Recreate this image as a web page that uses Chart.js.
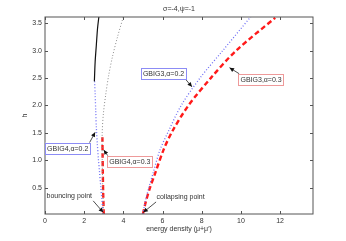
<!DOCTYPE html>
<html>
<head>
<meta charset="utf-8">
<script src="https://cdn.jsdelivr.net/npm/chart.js@4.4.1/dist/chart.umd.min.js"></script>
<style>
    html, body { margin: 0; padding: 0; background: #fff; }
    #wrap { width: 346px; height: 241px; }
</style>
</head>
<body>
<div id="wrap"><canvas id="chart" width="346" height="241"></canvas></div>
<script>
// Series: [energy density, h]
const blackSolid = [[2.52, 2.44], [2.56, 2.8], [2.62, 3.1], [2.68, 3.4], [2.75, 3.62]];
const grayDotted = [[3.0, 0.02], [2.95, 0.5], [2.92, 1.0], [2.92, 1.5], [2.98, 1.85], [3.1, 2.2],
    [3.25, 2.55], [3.45, 2.9], [3.7, 3.25], [4.0, 3.62]];
const gbig4a02 = [[2.97, 0.02], [2.9, 0.3], [2.85, 0.5], [2.78, 0.8], [2.73, 1.0], [2.67, 1.3],
    [2.62, 1.6], [2.59, 1.9], [2.56, 2.2], [2.53, 2.44]];
const gbig4a03 = [[3.0, 0.02], [2.97, 0.4], [2.95, 0.8], [2.94, 1.1], [2.93, 1.42]];
const gbig3a02 = [[5.0, 0.02], [5.12, 0.25], [5.3, 0.5], [5.52, 0.77], [5.87, 1.19], [6.3, 1.53],
    [6.95, 2.0], [7.91, 2.5], [9.07, 3.0], [10.5, 3.62]];
const gbig3a03 = [[5.0, 0.02], [5.15, 0.25], [5.36, 0.5], [5.63, 0.77], [6.05, 1.19], [6.5, 1.53],
    [7.32, 2.0], [8.46, 2.5], [9.75, 3.0], [11.75, 3.6]];

const xTicks = [0, 2, 4, 6, 8, 10, 12];
const yTicks = [0.5, 1, 1.5, 2, 2.5, 3, 3.5];

// Annotation boxes / text with arrows, in data coordinates
const notes = [
    { text: 'GBIG3,\u03b1=0.2', x: 6.05, y: 2.58, box: '#8c8cf5', from: [7.15, 2.49], to: [7.5, 2.34] },
    { text: 'GBIG3,\u03b1=0.3', x: 11.03, y: 2.475, box: '#ee9a9a', from: [9.91, 2.58], to: [9.42, 2.69] },
    { text: 'GBIG4,\u03b1=0.2', x: 1.16, y: 1.22, box: '#8c8cf5', from: [2.27, 1.32], to: [2.56, 1.51] },
    { text: 'GBIG4,\u03b1=0.3', x: 4.33, y: 0.985, box: '#ee9a9a', from: [3.21, 1.08], to: [3.0, 1.19] },
    { text: 'bouncing point', x: 1.24, y: 0.35, box: null, from: [2.46, 0.26], to: [2.97, 0.05] },
    { text: 'collapsing point', x: 6.92, y: 0.34, box: null, from: [5.67, 0.24], to: [5.02, 0.05] }
];

const toPts = arr => arr.map(p => ({ x: p[0], y: p[1] }));
const FAMILY = '"Liberation Sans", Arial, sans-serif';
const FONT = '7px ' + FAMILY;

function line(data, color, width, dash) {
    return {
        data: toPts(data),
        showLine: true,
        borderColor: color,
        borderWidth: width,
        borderDash: dash,
        pointRadius: 0,
        tension: 0.3,
        fill: false
    };
}

const framePlugin = {
    id: 'frame',
    afterDraw(chart) {
        const { ctx, chartArea: a, scales } = chart;
        ctx.save();
        ctx.strokeStyle = '#555';
        ctx.lineWidth = 1;
        ctx.strokeRect(a.left, a.top, a.right - a.left, a.bottom - a.top);
        ctx.beginPath();
        xTicks.forEach(v => {
            const px = Math.round(scales.x.getPixelForValue(v)) + 0.5;
            ctx.moveTo(px, a.bottom); ctx.lineTo(px, a.bottom - 3);
            ctx.moveTo(px, a.top); ctx.lineTo(px, a.top + 3);
        });
        yTicks.forEach(v => {
            const py = Math.round(scales.y.getPixelForValue(v)) + 0.5;
            ctx.moveTo(a.left, py); ctx.lineTo(a.left + 3, py);
            ctx.moveTo(a.right, py); ctx.lineTo(a.right - 3, py);
        });
        ctx.stroke();

        // title and axis titles
        ctx.fillStyle = '#333';
        ctx.font = FONT;
        ctx.textAlign = 'center';
        ctx.textBaseline = 'middle';
        ctx.fillText('\u03c3=-4,\u03c8=-1', (a.left + a.right) / 2, 9);
        ctx.fillText('energy density (\u03bc+\u03bc\u2032)', (a.left + a.right) / 2, 229);
        ctx.save();
        ctx.translate(25, (a.top + a.bottom) / 2);
        ctx.rotate(-Math.PI / 2);
        ctx.fillText('h', 0, 0);
        ctx.restore();

        // annotations
        notes.forEach(n => {
            const fx = scales.x.getPixelForValue(n.from[0]), fy = scales.y.getPixelForValue(n.from[1]);
            const tx = scales.x.getPixelForValue(n.to[0]), ty = scales.y.getPixelForValue(n.to[1]);
            ctx.strokeStyle = '#222';
            ctx.fillStyle = '#111';
            ctx.lineWidth = 0.8;
            ctx.beginPath(); ctx.moveTo(fx, fy); ctx.lineTo(tx, ty); ctx.stroke();
            const ang = Math.atan2(ty - fy, tx - fx);
            ctx.beginPath();
            ctx.moveTo(tx, ty);
            ctx.lineTo(tx - 5 * Math.cos(ang - 0.45), ty - 5 * Math.sin(ang - 0.45));
            ctx.lineTo(tx - 5 * Math.cos(ang + 0.45), ty - 5 * Math.sin(ang + 0.45));
            ctx.closePath(); ctx.fill();

            const cx = scales.x.getPixelForValue(n.x), cy = scales.y.getPixelForValue(n.y);
            ctx.font = FONT;
            const w = ctx.measureText(n.text).width;
            if (n.box) {
                ctx.fillStyle = '#fff';
                ctx.fillRect(cx - w / 2 - 2, cy - 5.5, w + 4, 11);
                ctx.strokeStyle = n.box;
                ctx.lineWidth = 1;
                ctx.strokeRect(Math.round(cx - w / 2 - 2) + 0.5, Math.round(cy - 5.5) + 0.5, Math.round(w + 4), 11);
            }
            ctx.fillStyle = '#333';
            ctx.textAlign = 'center';
            ctx.textBaseline = 'middle';
            ctx.fillText(n.text, cx, cy + 0.5);
        });
        ctx.restore();
    }
};

new Chart(document.getElementById('chart'), {
    type: 'scatter',
    data: {
        datasets: [
            line(blackSolid, '#111', 1.2, []),
            line(grayDotted, '#8a8a8a', 1, [1, 2]),
            line(gbig4a02, '#6f6ff5', 1.3, [1, 2]),
            line(gbig4a03, '#ff1a1a', 2.4, [5, 3]),
            line(gbig3a02, '#6f6ff5', 1.3, [1, 2]),
            line(gbig3a03, '#ff1a1a', 2.4, [5, 3])
        ]
    },
    options: {
        responsive: false,
        animation: false,
        layout: { padding: { top: 17, right: 33, left: 0, bottom: 0 } },
        plugins: { legend: { display: false }, tooltip: { enabled: false }, title: { display: false } },
        scales: {
            x: {
                type: 'linear',
                min: 0,
                max: 13.68,
                afterBuildTicks: s => { s.ticks = xTicks.map(v => ({ value: v })); },
                afterFit: s => { s.height = 27; },
                grid: { display: false, drawTicks: false },
                border: { display: false },
                ticks: { color: '#333', font: { size: 7, family: FAMILY }, padding: 3, maxRotation: 0 }
            },
            y: {
                type: 'linear',
                min: 0.02,
                max: 3.615,
                afterBuildTicks: s => { s.ticks = yTicks.map(v => ({ value: v })); },
                afterFit: s => { s.width = 45; },
                grid: { display: false, drawTicks: false },
                border: { display: false },
                ticks: { color: '#333', font: { size: 7, family: FAMILY }, padding: 3 }
            }
        }
    },
    plugins: [framePlugin]
});
</script>
</body>
</html>
